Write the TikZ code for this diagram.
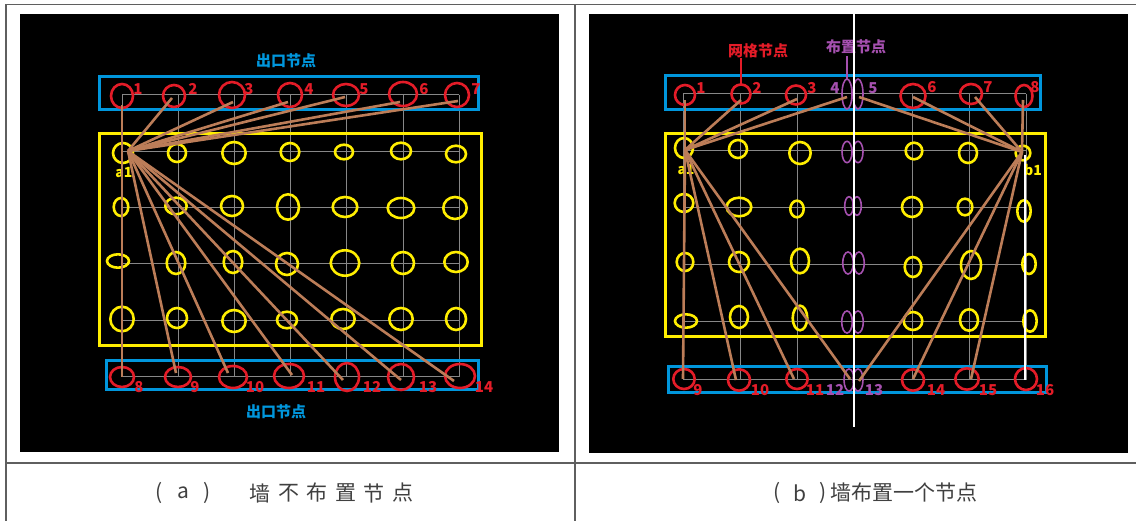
\documentclass[tikz,border=0pt]{standalone}
\usepackage{fontspec}
\newfontfamily\cjk{Noto Sans CJK SC}
\usetikzlibrary{shapes.geometric}
\definecolor{cred}{RGB}{228,28,40}
\definecolor{cblue}{RGB}{0,150,220}
\definecolor{cyel}{RGB}{255,238,0}
\definecolor{cbrown}{RGB}{188,125,88}
\definecolor{cpurp}{RGB}{165,80,175}
\definecolor{cgrid}{RGB}{135,135,135}
\definecolor{ctab}{RGB}{95,95,95}
\tikzset{
  rc/.style 2 args={draw=cred, line width=2.6, shape=ellipse, inner sep=0pt, outer sep=0pt, minimum width={2*#1}, minimum height={2*#2}},
  yc/.style 2 args={draw=cyel, line width=2.6, shape=ellipse, inner sep=0pt, outer sep=0pt, minimum width={2*#1}, minimum height={2*#2}},
  pc/.style 2 args={draw=cpurp, line width=1.6, shape=ellipse, inner sep=0pt, outer sep=0pt, minimum width={2*#1}, minimum height={2*#2}},
  numlab/.style={font=\cjk\bfseries\fontsize{15}{15}\selectfont, text=cred, inner sep=0pt},
  plab/.style={font=\cjk\bfseries\fontsize{15}{15}\selectfont, text=cpurp, inner sep=0pt},
  ylab/.style={font=\cjk\bfseries\fontsize{14}{14}\selectfont, text=cyel, inner sep=0pt},
  blab/.style={font=\cjk\bfseries\fontsize{15}{15}\selectfont, text=cblue, inner sep=0pt},
  captext/.style={font=\cjk\fontsize{21}{21}\selectfont, text=black!75, inner sep=0pt},
  bluebox/.style={draw=cblue, line width=3},
  yelbox/.style={draw=cyel, line width=3},
  gridline/.style={draw=cgrid, line width=1},
  conn/.style={draw=cbrown, line width=2.6},
  wall/.style={draw=white, line width=1.8},
  tab/.style={draw=ctab, line width=1.5},
}
\begin{document}
\begin{tikzpicture}[x=1pt,y=-1pt]
\useasboundingbox (0,0) rectangle (1136,521);
\fill[white] (0,0) rectangle (1136,521);
% table
\draw[tab] (6,4.5) -- (1136,4.5);
\draw[tab] (6,4.5) -- (6,521);
\draw[tab] (575,4.5) -- (575,521);
\draw[tab] (6,463) -- (1136,463);
% panels
\fill[black] (20,14) rectangle (559,452);
\fill[black] (589,14) rectangle (1128,453);

%================ LEFT PANEL =================
\foreach \x in {122,178,234,290,346,403,459} \draw[gridline] (\x,95) -- (\x,377);
\foreach \y in {95,152,208,264,321,377} \draw[gridline] (122,\y) -- (459,\y);
\draw[bluebox] (99,77) rectangle (478,110);
\draw[bluebox] (106,361) rectangle (478,390);
\draw[yelbox] (99,134) rectangle (481,346);
\node[blab] (exitT) at (286,61) {出口节点};
\node[blab] (exitB) at (276,412) {出口节点};
% red circles top
\foreach \x/\y/\a/\b [count=\i] in {122/96/11/12, 174/96/11/11, 232/95/13/13, 290/95/12/12, 346/95/13/11, 403/94/14/12, 457/95/12/12}
  \node[rc={\a}{\b}] (L\i) at (\x,\y) {};
\foreach \x/\y [count=\i] in {138/89, 193/89, 249/89, 309/89, 364/89, 424/89, 476/89}
  \node[numlab] (LL\i) at (\x,\y) {\i};
% red circles bottom
\foreach \x/\y/\a/\b [count=\i from 8] in {122/377/12/10, 178/377/13/10, 233/377/14/11, 289/376/15/12, 347/377/12/14, 401/377/13/13, 460/376/15/12}
  \node[rc={\a}{\b}] (L\i) at (\x,\y) {};
\foreach \x/\y [count=\i from 8] in {139/387, 195/387, 255/387, 316/387, 372/387, 428/387, 484/387}
  \node[numlab] (LL\i) at (\x,\y) {\i};
% yellow circles
\foreach \x/\y/\a/\b [count=\i] in {
  123/153/10/10, 177/153/9/9, 234/153/11.7/11, 290/152/9.3/9, 344/152/9/7.3, 401/151/10/8.3, 456/154/10/8.3,
  121/207/7.3/9, 176/206/10.7/8.3, 232/206/11/10, 288/207/11/12.7, 345/207/12.3/10, 401/208/13.3/10, 455/208/11.7/11,
  118/261/11/6.7, 176/263/9.3/11, 233/262/9.3/11, 287/264/11/11, 345/263/14.3/12.7, 403/263/11/11, 456/262/11.7/10,
  122/319/11.7/12.3, 177/318/10/10, 234/321/11.7/11, 287/320/10/8.3, 343/319/11.7/10, 401/319/11.7/11, 456/319/10/11}
  \node[yc={\a}{\b}] (LY\i) at (\x,\y) {};
\node[ylab] (La1) at (124,173) {a1};
% connectors
\coordinate (LA) at (128,151);
\foreach \n/\x/\y in {1/122/105, 2/172/98, 3/233/102, 4/288/102, 5/345/97, 6/400/102, 7/458/101,
  8/122/377, 9/176/373, 10/228/373, 11/292/375, 12/343/380, 13/401/380, 14/454/381}
  \coordinate (Le\n) at (\x,\y);
\draw[conn] (Le1) -- (Le8);
\foreach \n in {2,...,7,9,10,11,12,13,14} \draw[conn] (LA) -- (Le\n);

%================ RIGHT PANEL =================
\foreach \x in {683,740.5,797.5,912.5,969,1026} \draw[gridline] (\x,94) -- (\x,380);
\foreach \y in {94,151,208,265,322,380} \draw[gridline] (683,\y) -- (1026,\y);
\draw[bluebox] (665,76) rectangle (1040,110);
\draw[bluebox] (668,367) rectangle (1046,393);
\draw[yelbox] (665,134) rectangle (1045,337);
% red circles top
\foreach \n/\x/\y/\a/\b in {1/685/95/10/10, 2/741/94/9.5/9.5, 3/796/95/10/9.5, 6/913/96/12.5/12, 7/971/94/11/10, 8/1024/96/8.5/11}
  \node[rc={\a}{\b}] (R\n) at (\x,\y) {};
\node[pc={5}{15}] (R4) at (847,94) {};
\node[pc={5}{15}] (R5) at (858,94) {};
\foreach \n/\x/\y in {1/701/88, 2/757/88, 3/812/88, 6/932/87, 7/988/87, 8/1035/87}
  \node[numlab] (RL\n) at (\x,\y) {\n};
\node[plab] (RL4) at (835,88) {4};
\node[plab] (RL5) at (873,88) {5};
% annotations
\node[numlab] (gridlab) at (758,51) {网格节点};
\node[plab] (placelab) at (856,47) {布置节点};
\draw[draw=cred, line width=2] (741,58) -- (R2.north);
\draw[draw=cpurp, line width=2] (847,56) -- (R4.north);
% red circles bottom
\foreach \n/\x/\y/\a/\b in {9/684/379/10.7/10, 10/739/380/11/10.7, 11/797/379/10.7/10, 14/913/380/11/10.7, 15/967/379/11.7/10.7, 16/1026/379/11/11}
  \node[rc={\a}{\b}] (R\n) at (\x,\y) {};
\node[pc={5}{11}] (R12) at (849,380) {};
\node[pc={5}{11}] (R13) at (858,380) {};
\foreach \n/\x/\y in {9/698/390, 10/760/390, 11/815/390, 14/936/390, 15/988/390, 16/1045/390}
  \node[numlab] (RL\n) at (\x,\y) {\n};
\node[plab] (RL12) at (835,390) {12};
\node[plab] (RL13) at (874,390) {13};
% yellow circles (columns 1-3, 5-7)
\foreach \x/\y/\a/\b [count=\i] in {
  684/148/9/10, 738/149/9/9, 800/153/10.7/11, 914/151/8.3/8.3, 968/153/9/10, 1023/153/7.3/7.3,
  684/203/9.3/9, 739/207/12.3/9.3, 797/209/6.7/8.3, 912/207/10/10, 965/207/7.3/8.3, 1024/211/6.7/10.7,
  685/262/8.3/9, 739/262/10/10, 800/261/9/12.3, 913/267/8.3/10, 971/265/10/14, 1029/264/6.7/10,
  686/321/11/6.7, 739/317/9/11, 800/318/7.3/12.3, 913/321/9.3/9, 969/320/9/10.7, 1030/321/6.7/10.7}
  \node[yc={\a}{\b}] (RY\i) at (\x,\y) {};
% purple pairs
\foreach \xa/\xb/\y/\a/\b [count=\i] in {847/858/152/5/10.7, 849/857/206/4.3/9.3, 848/859/263/5.3/11, 847/858/322/5.3/11}
  {\node[pc={\a}{\b}] (RPa\i) at (\xa,\y) {};
   \node[pc={\a}{\b}] (RPb\i) at (\xb,\y) {};}
\node[ylab] (Ra1) at (686,170) {a1};
\node[ylab] (Rb1) at (1033,170) {b1};
% connectors
\coordinate (RA) at (685,150);
\coordinate (RB) at (1022,152);
\foreach \n/\x/\y in {1/685/100, 2/741/100, 3/797/99, 4/847/97, 9/683/379, 10/736/380, 11/794/379, 12/850/379,
  5/859/97, 6/913/97, 7/975/97, 8/1023/100, 13/859/381, 14/913/379, 15/971/379, 16/1025/380}
  \coordinate (Re\n) at (\x,\y);
\foreach \n in {1,2,3,4,9,10,11,12} \draw[conn] (RA) -- (Re\n);
\foreach \n in {5,6,7,8,13,14,15} \draw[conn] (RB) -- (Re\n);
% wall lines
\coordinate (wT) at (854,14);
\coordinate (wB) at (854,427);
\draw[wall] (wT) -- (wB);
\coordinate (bW) at (1025,155);
\draw[wall] (bW) -- (Re16);

%================ CAPTIONS =================
\node[captext] (ca1) at (159,493) {(};
\node[captext] (ca2) at (183,493) {a};
\node[captext] (ca3) at (207,493) {)};
\foreach \c [count=\i from 0] in {墙,不,布,置,节,点}
  \node[captext] (ct\i) at ({260+28.6*\i},493) {\c};
\node[captext] (cb1) at (777,493) {(};
\node[captext] (cb2) at (800,493) {b};
\node[captext] (cb3) at (823,493) {)};
\node[captext] (cbt) at (904,493) {墙布置一个节点};
\end{tikzpicture}
\end{document}
